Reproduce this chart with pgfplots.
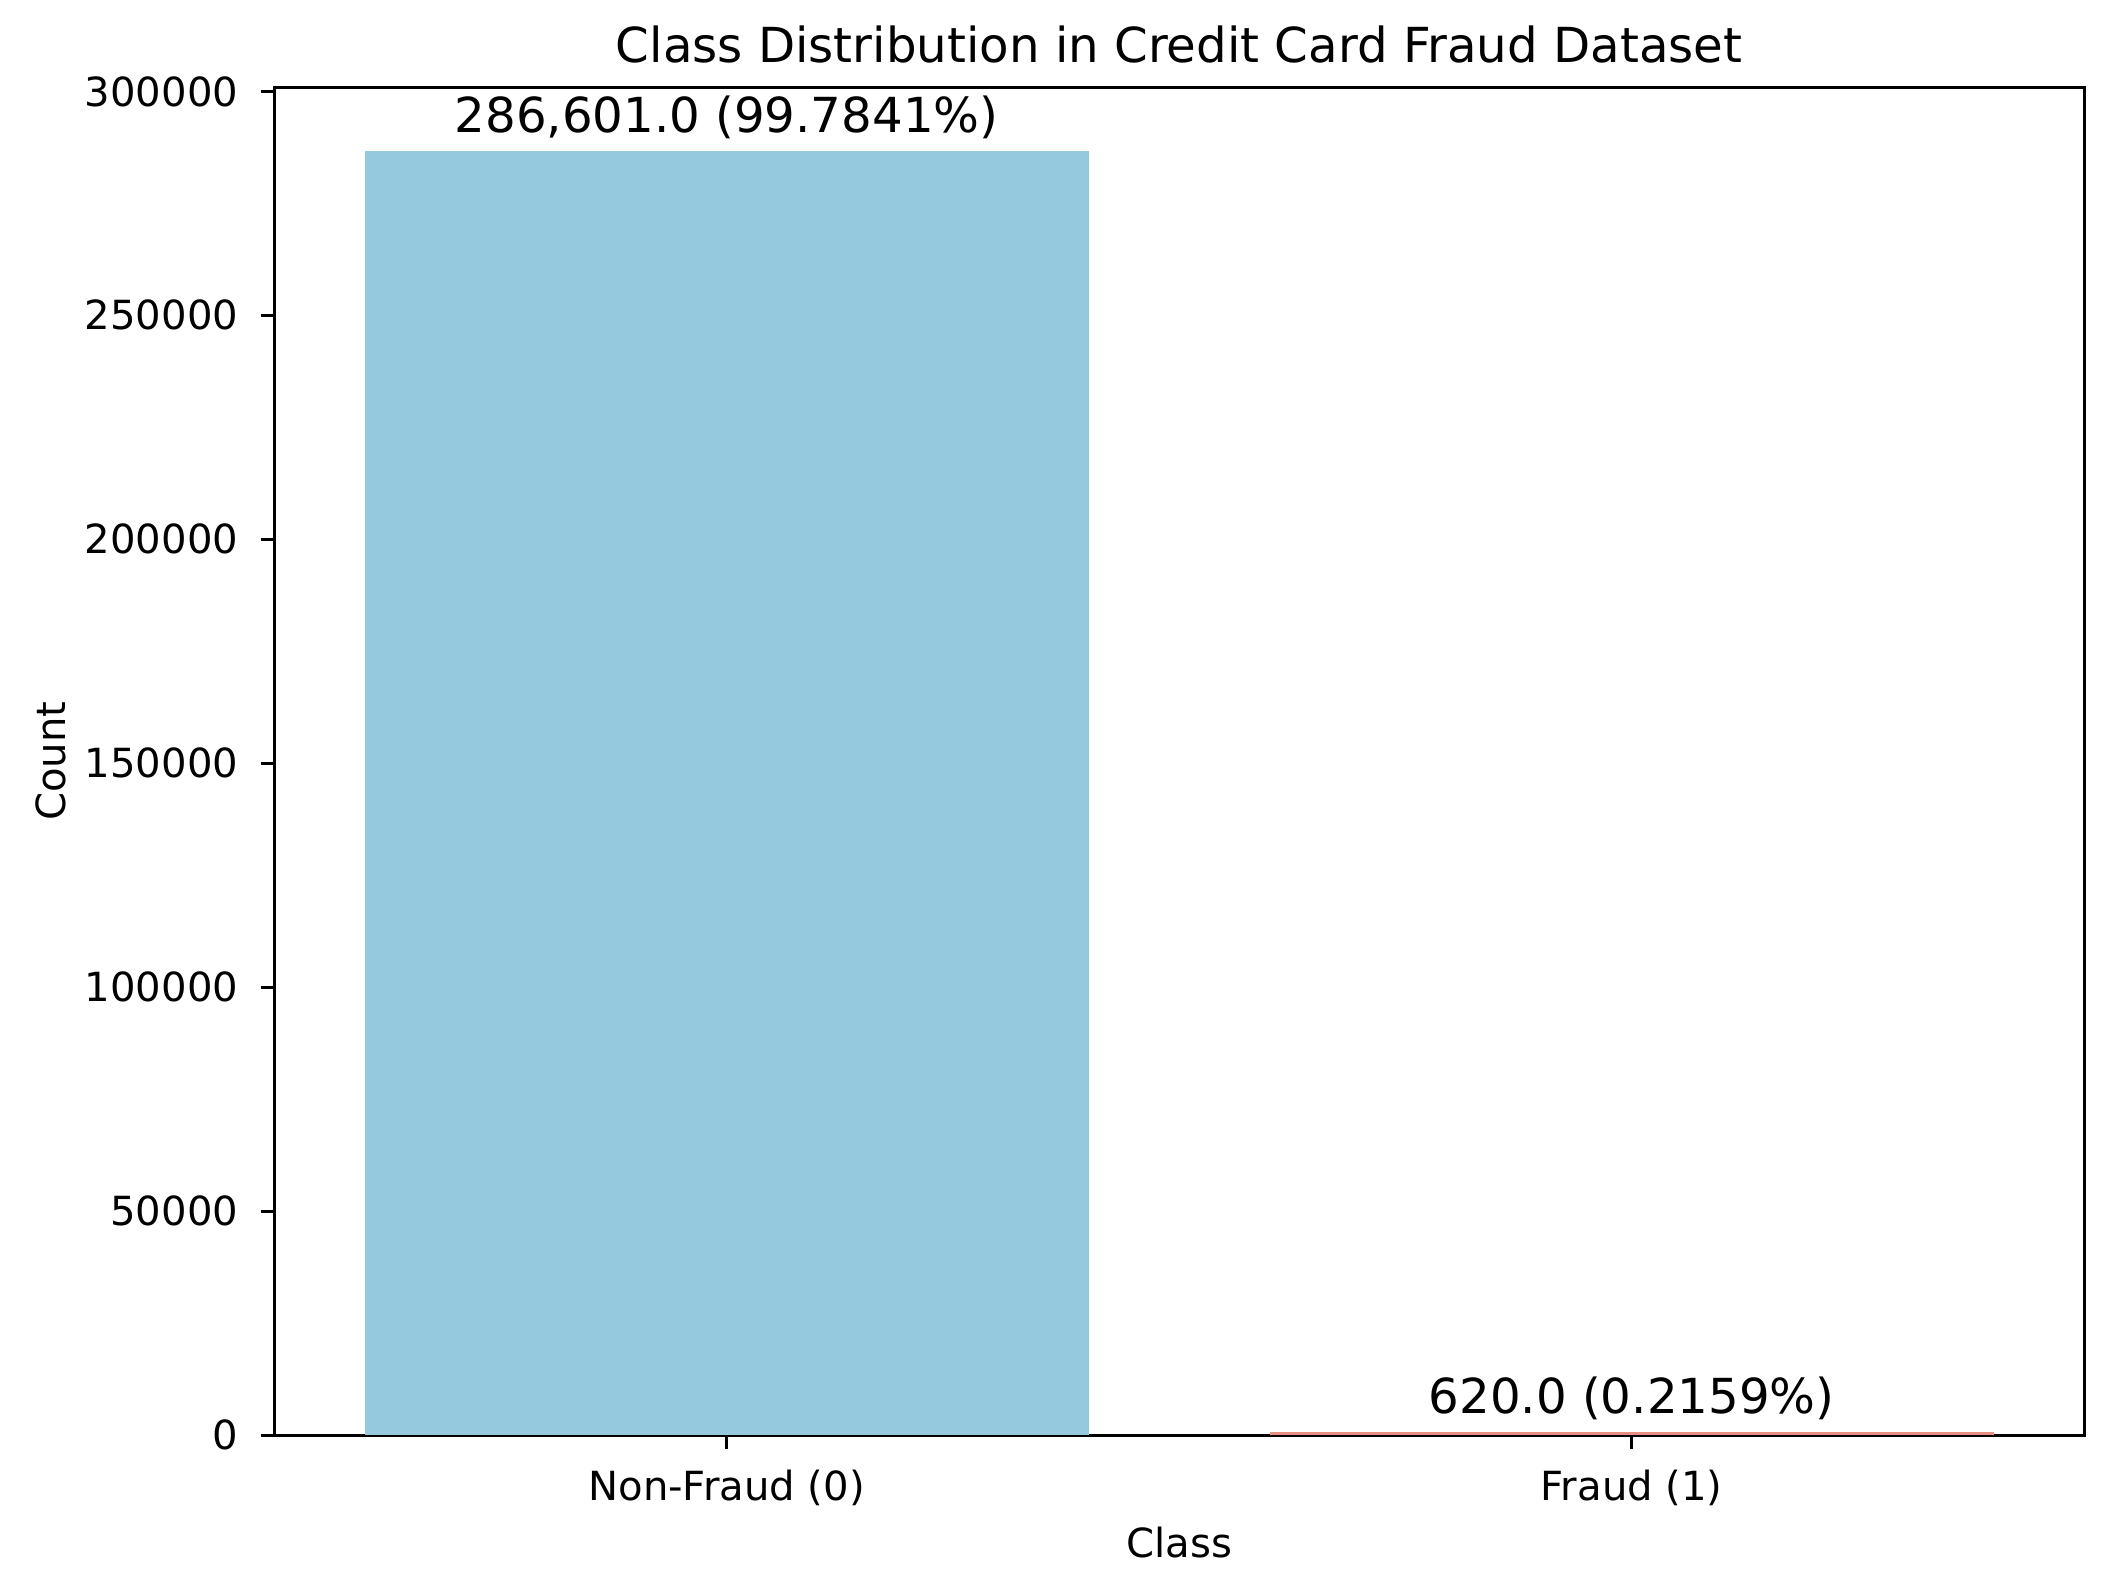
\documentclass[border=0pt]{standalone}
\usepackage{fontspec}
\setmainfont{DejaVu Sans}
\usepackage{pgfplots}
\pgfplotsset{compat=1.18}
\definecolor{nonfraud}{RGB}{148,201,222}
\definecolor{fraud}{RGB}{233,142,131}
\begin{document}
\begin{tikzpicture}
\path[use as bounding box] (0,0) rectangle (548.4pt,411.7pt);
\begin{axis}[
  at={(71pt,39.9pt)}, anchor=south west,
  scale only axis, width=468.9pt, height=349.2pt,
  xmin=-0.5, xmax=1.5, ymin=0, ymax=300931,
  ybar, bar width=0.8,
  xtick={0,1}, xticklabels={Non-Fraud (0), Fraud (1)},
  ytick={0,50000,...,300000},
  scaled y ticks=false,
  yticklabel style={/pgf/number format/fixed, /pgf/number format/1000 sep={}},
  /pgf/number format/assume math mode=true,
  tick align=outside, major tick length=3.5pt,
  xtick pos=bottom, ytick pos=left,
  tick style={black, line width=0.8pt},
  axis line style={line width=0.8pt},
  tick label style={font=\fontsize{10.4}{12}\selectfont, inner sep=0pt},
  xticklabel style={anchor=north, yshift=-5.3pt},
  yticklabel style={anchor=east, xshift=-5.6pt},
  every axis title shift=0pt,
  title={Class Distribution in Credit Card Fraud Dataset},
  title style={at={(axis description cs:0.5,1)}, anchor=base, yshift=6.5pt,
    inner sep=0pt, font=\fontsize{12.5}{15}\selectfont},
  xlabel={Class},
  xlabel style={at={(axis description cs:0.5,0)}, anchor=north, yshift=-23.5pt,
    inner sep=0pt, font=\fontsize{10.4}{12}\selectfont},
  ylabel={Count},
  ylabel style={at={([xshift=-54.1pt]axis description cs:0,0.5)}, anchor=base,
    inner sep=0pt, font=\fontsize{10.4}{12}\selectfont},
  point meta=explicit symbolic,
  nodes near coords={\pgfplotspointmeta},
  nodes near coords style={anchor=base, yshift=5pt, inner sep=0pt,
    font=\fontsize{12.5}{15}\selectfont, text=black},
]
\addplot[fill=nonfraud, draw=none, bar shift=0pt]
  coordinates {(0,286601) [286,601.0 (99.7841\%)]};
\addplot[fill=fraud, draw=none, bar shift=0pt]
  coordinates {(1,620) [620.0 (0.2159\%)]};
\end{axis}
\end{tikzpicture}
\end{document}
